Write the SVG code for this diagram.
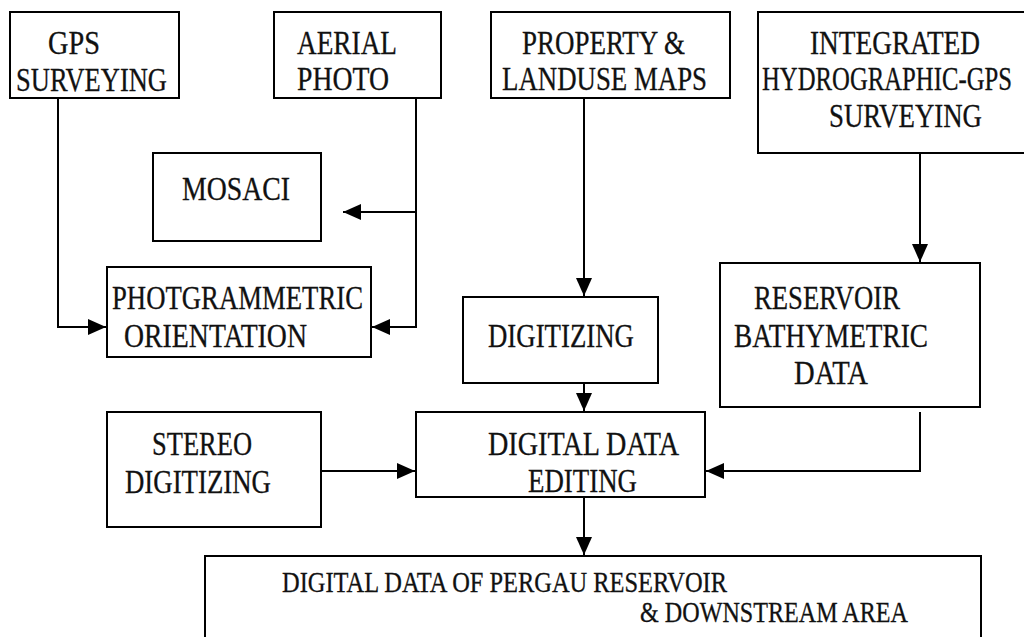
<svg xmlns="http://www.w3.org/2000/svg" width="1024" height="637" viewBox="0 0 1024 637">
<defs>
<style>
.box{fill:#fff;stroke:#000;stroke-width:2}
.t{font-family:"Liberation Serif","Times New Roman",serif;font-size:33px;fill:#111;stroke:#111;stroke-width:0.3}
.s{font-size:30px}
.c{fill:none;stroke:#000;stroke-width:2}
</style>
<marker id="ah" markerUnits="userSpaceOnUse" markerWidth="20" markerHeight="18" refX="18" refY="8" orient="auto">
<path d="M0,0 L18,8 L0,16 Z" fill="#000"/>
</marker>
</defs>
<rect width="1024" height="637" fill="#fff"/>
<g id="connectors">
<path class="c" d="M58 98 V327 H106" marker-end="url(#ah)"/>
<path class="c" d="M416 98 V327 H372" marker-end="url(#ah)"/>
<path class="c" d="M416 212 H343" marker-end="url(#ah)"/>
<path class="c" d="M584 98 V296" marker-end="url(#ah)"/>
<path class="c" d="M920 153 V262" marker-end="url(#ah)"/>
<path class="c" d="M584 383 V411" marker-end="url(#ah)"/>
<path class="c" d="M321 471 H415" marker-end="url(#ah)"/>
<path class="c" d="M920 412 V471 H706" marker-end="url(#ah)"/>
<path class="c" d="M584 497 V555" marker-end="url(#ah)"/>
</g>
<g id="gps">
<rect class="box" x="10" y="12" width="169" height="86"/>
<text class="t" x="48" y="54" textLength="52" lengthAdjust="spacingAndGlyphs">GPS</text>
<text class="t" x="16" y="91" textLength="151" lengthAdjust="spacingAndGlyphs">SURVEYING</text>
</g>
<g id="aerial">
<rect class="box" x="274" y="12" width="167" height="86"/>
<text class="t" x="297" y="54" textLength="100" lengthAdjust="spacingAndGlyphs">AERIAL</text>
<text class="t" x="297" y="90" textLength="92" lengthAdjust="spacingAndGlyphs">PHOTO</text>
</g>
<g id="property">
<rect class="box" x="491" y="12" width="239" height="86"/>
<text class="t" x="522" y="54" textLength="163" lengthAdjust="spacingAndGlyphs">PROPERTY &amp;</text>
<text class="t" x="502" y="90" textLength="205" lengthAdjust="spacingAndGlyphs">LANDUSE MAPS</text>
</g>
<g id="integrated">
<rect class="box" x="758" y="12" width="280" height="141"/>
<text class="t" x="810" y="54" textLength="170" lengthAdjust="spacingAndGlyphs">INTEGRATED</text>
<text class="t" x="762" y="90" textLength="250" lengthAdjust="spacingAndGlyphs">HYDROGRAPHIC-GPS</text>
<text class="t" x="829" y="127" textLength="153" lengthAdjust="spacingAndGlyphs">SURVEYING</text>
</g>
<g id="mosaci">
<rect class="box" x="153" y="153" width="168" height="88"/>
<text class="t" x="182" y="200" textLength="108" lengthAdjust="spacingAndGlyphs">MOSACI</text>
</g>
<g id="photogrammetric">
<rect class="box" x="107" y="267" width="264" height="90"/>
<text class="t" x="112" y="309" textLength="251" lengthAdjust="spacingAndGlyphs">PHOTGRAMMETRIC</text>
<text class="t" x="124" y="347" textLength="183" lengthAdjust="spacingAndGlyphs">ORIENTATION</text>
</g>
<g id="digitizing">
<rect class="box" x="463" y="297" width="195" height="86"/>
<text class="t" x="488" y="347" textLength="146" lengthAdjust="spacingAndGlyphs">DIGITIZING</text>
</g>
<g id="reservoir">
<rect class="box" x="720" y="263" width="260" height="144"/>
<text class="t" x="754" y="309" textLength="146" lengthAdjust="spacingAndGlyphs">RESERVOIR</text>
<text class="t" x="734" y="347" textLength="194" lengthAdjust="spacingAndGlyphs">BATHYMETRIC</text>
<text class="t" x="794" y="384" textLength="74" lengthAdjust="spacingAndGlyphs">DATA</text>
</g>
<g id="stereo">
<rect class="box" x="107" y="412" width="214" height="115"/>
<text class="t" x="152" y="455" textLength="100" lengthAdjust="spacingAndGlyphs">STEREO</text>
<text class="t" x="125" y="493" textLength="146" lengthAdjust="spacingAndGlyphs">DIGITIZING</text>
</g>
<g id="editing">
<rect class="box" x="416" y="412" width="289" height="85"/>
<text class="t" x="488" y="455" textLength="191" lengthAdjust="spacingAndGlyphs">DIGITAL DATA</text>
<text class="t" x="528" y="492" textLength="109" lengthAdjust="spacingAndGlyphs">EDITING</text>
</g>
<g id="output">
<rect class="box" x="205" y="556" width="776" height="100"/>
<text class="t s" x="282" y="592" textLength="445" lengthAdjust="spacingAndGlyphs">DIGITAL DATA OF PERGAU RESERVOIR</text>
<text class="t s" x="640" y="622" textLength="268" lengthAdjust="spacingAndGlyphs">&amp; DOWNSTREAM AREA</text>
</g>
</svg>
